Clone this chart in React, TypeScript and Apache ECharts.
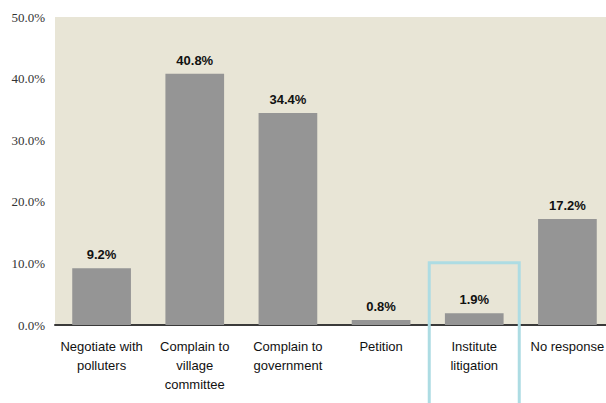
import React, { useEffect, useRef } from "react";
import * as echarts from "echarts";

const categories = [
  "Negotiate with\npolluters",
  "Complain to\nvillage\ncommittee",
  "Complain to\ngovernment",
  "Petition",
  "Institute\nlitigation",
  "No response",
];
const values = [9.2, 40.8, 34.4, 0.8, 1.9, 17.2];
const yTicks = [0, 10, 20, 30, 40, 50];
const highlightIndex = 4;

const SANS = "Liberation Sans";
const SERIF = "Liberation Serif";

export default function App() {
  const ref = useRef<HTMLDivElement>(null);
  useEffect(() => {
    const chart = echarts.init(ref.current!, null, { renderer: "svg" });
    chart.setOption({
      animation: false,
      grid: {
        left: 55,
        top: 17,
        width: 559,
        bottom: 78,
        show: true,
        backgroundColor: "#E8E5D6",
        borderWidth: 0,
        containLabel: false,
        outerBoundsMode: "none",
      },
      xAxis: {
        type: "category",
        data: categories,
        axisLine: { show: true, lineStyle: { color: "#3a3a3a", width: 2 } },
        axisTick: { show: false },
        axisLabel: {
          interval: 0,
          margin: 12,
          fontFamily: SANS,
          fontSize: 13,
          lineHeight: 19,
          color: "#111",
          hideOverlap: false,
        },
      },
      yAxis: {
        type: "value",
        min: yTicks[0],
        max: yTicks[yTicks.length - 1],
        interval: 10,
        axisLine: { show: false },
        axisTick: { show: false },
        splitLine: { show: false },
        axisLabel: {
          margin: 10,
          fontFamily: SERIF,
          fontWeight: "normal",
          fontSize: 13,
          color: "#333",
          formatter: (v: number) => v.toFixed(1) + "%",
        },
      },
      series: [
        {
          type: "bar",
          data: values,
          barCategoryGap: "37%",
          itemStyle: { color: "#959595" },
          label: {
            show: true,
            position: "top",
            distance: 7,
            fontFamily: SANS,
            fontWeight: "bold",
            fontSize: 13,
            color: "#111",
            formatter: (p: any) => p.value.toFixed(1) + "%",
          },
        },
      ],
    });
    const cx = chart.convertToPixel({ xAxisIndex: 0 }, highlightIndex) as number;
    const topY = chart.convertToPixel({ yAxisIndex: 0 }, 10.1) as number;
    chart.setOption({
      graphic: [
        {
          type: "rect",
          shape: { x: cx - 45, y: topY, width: 90, height: 200 },
          style: { fill: "none", stroke: "#ADDCE3", lineWidth: 3 },
          z: 100,
        },
      ],
    });
    return () => chart.dispose();
  }, []);
  return <div ref={ref} style={{ width: 606, height: 403, position: "absolute", left: 0, top: 0 }} />;
}
